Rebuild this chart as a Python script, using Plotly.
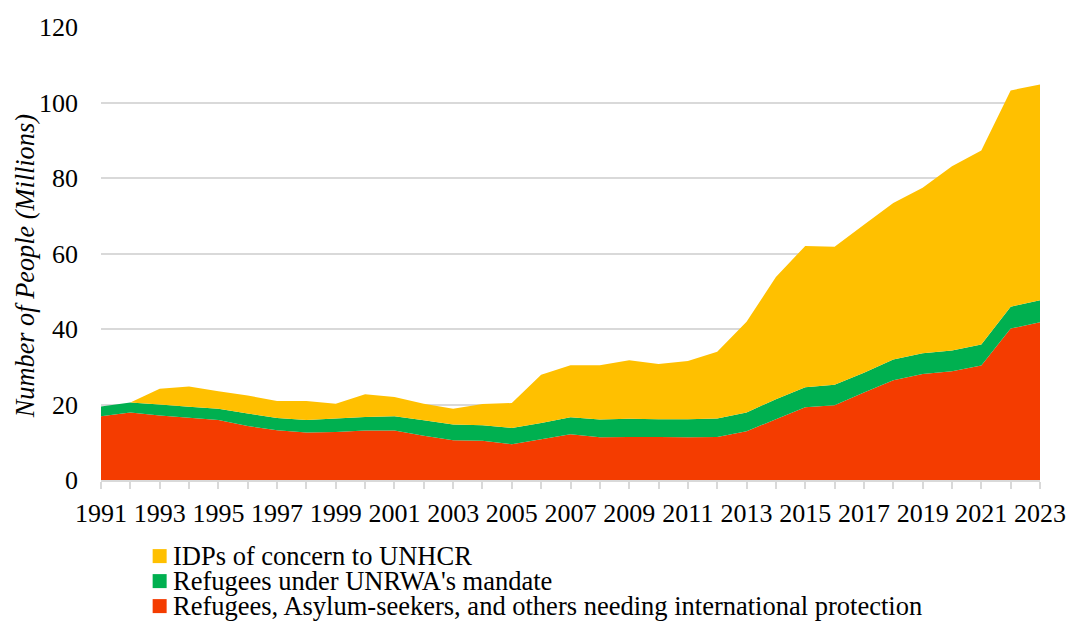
import plotly.graph_objects as go

years = list(range(1991, 2024))

refugees = [16.9, 17.9, 17.1, 16.5, 15.9, 14.3, 13.2, 12.6, 12.7, 13.1, 13.1,
            11.7, 10.5, 10.4, 9.5, 10.8, 12.1, 11.3, 11.4, 11.4, 11.3, 11.4,
            12.9, 16.1, 19.3, 19.8, 23.2, 26.4, 28.1, 28.8, 30.3, 40.1, 41.8]
unrwa = [2.6, 2.6, 2.9, 2.9, 3.0, 3.3, 3.2, 3.3, 3.6, 3.6, 3.8,
         4.1, 4.2, 4.1, 4.3, 4.3, 4.5, 4.7, 4.8, 4.7, 4.8, 4.9,
         5.0, 5.3, 5.3, 5.4, 5.2, 5.5, 5.5, 5.5, 5.6, 5.8, 5.8]
idps = [0.0, 0.0, 4.2, 5.4, 4.6, 4.8, 4.5, 5.0, 3.9, 6.0, 5.1,
        4.4, 4.2, 5.6, 6.6, 12.8, 13.8, 14.4, 15.5, 14.6, 15.4, 17.7,
        24.0, 32.4, 37.4, 36.6, 39.2, 41.5, 43.8, 48.8, 51.4, 57.3, 57.2]

series = [
    ("Refugees, Asylum-seekers, and others needing international protection", refugees, "#F43C00"),
    ("Refugees under UNRWA's mandate", unrwa, "#00B050"),
    ("IDPs of concern to UNHCR", idps, "#FFC000"),
]

FONT = "'Liberation Serif', 'Times New Roman', 'DejaVu Serif', serif"
GRID = "#D9D9D9"

fig = go.Figure()
for name, vals, color in series:
    fig.add_trace(go.Scatter(
        x=years, y=vals, name=name, mode="none",
        stackgroup="all", fillcolor=color, showlegend=False,
        hovertemplate="%{x}: %{y:.1f}M<extra>" + name + "</extra>",
    ))

# Legend block below the plot: top entry is the top layer of the stack
legend_x0 = 0.055      # paper x of swatch left edge
legend_y0 = -0.168     # paper y of first row centre
row_gap = 25 / 453     # row spacing in paper units
sw = 14
for i, (name, vals, color) in enumerate(reversed(series)):
    yc = legend_y0 - i * row_gap
    fig.add_shape(type="rect", xref="paper", yref="paper",
                  x0=legend_x0, x1=legend_x0 + sw / 939,
                  y0=yc - (sw / 2) / 453, y1=yc + (sw / 2) / 453,
                  fillcolor=color, line_width=0)
    fig.add_annotation(xref="paper", yref="paper", x=legend_x0 + 18 / 939, y=yc,
                       text=name, showarrow=False, xanchor="left", yanchor="middle",
                       font=dict(family=FONT, size=26.5, color="black"))

# Y-axis title, placed by hand so it sits at a fixed distance from the plot
fig.add_annotation(xref="paper", yref="paper", x=-76 / 939, y=0.472,
                   text="<i>Number of People (Millions)</i>", showarrow=False,
                   textangle=-90, xanchor="center", yanchor="middle",
                   font=dict(family=FONT, size=26.3, color="black"))

fig.update_layout(
    width=1067, height=623,
    margin=dict(l=101, r=27, t=27, b=143),
    paper_bgcolor="white", plot_bgcolor="white",
    font=dict(family=FONT, size=25, color="black"),
    showlegend=False,
    xaxis=dict(
        range=[1991, 2023], tick0=1991, dtick=2,
        ticks="outside", ticklen=7, tickwidth=2, tickcolor=GRID,
        minor=dict(dtick=1, tick0=1991, ticks="outside", ticklen=7,
                   tickwidth=2, tickcolor=GRID, showgrid=False),
        showline=True, linecolor=GRID, linewidth=2,
        showgrid=False, zeroline=False, automargin=False,
        tickfont=dict(family=FONT, size=26),
        ticklabelstandoff=2,
    ),
    yaxis=dict(
        range=[0, 120], dtick=20,
        showgrid=True, gridcolor=GRID, gridwidth=2,
        zeroline=False, showline=False, ticks="", automargin=False,
        tickfont=dict(family=FONT, size=26),
        ticklabelstandoff=22,
    ),
)

fig.write_html("out.html")
